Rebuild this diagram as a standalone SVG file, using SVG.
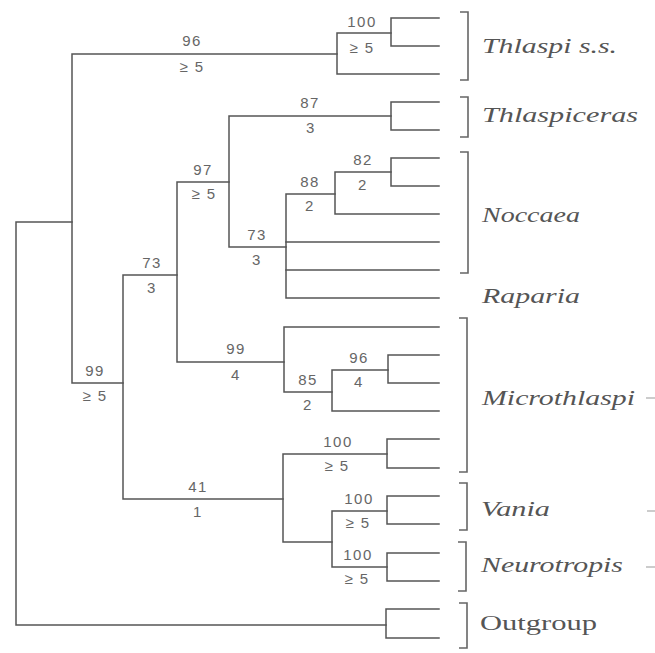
<svg xmlns="http://www.w3.org/2000/svg" width="655" height="653" viewBox="0 0 655 653">
<style>
.br{fill:none;stroke:#555;stroke-width:1.5;stroke-linecap:square}
.bk{fill:none;stroke:#666;stroke-width:1.6}
.n{font-family:"Liberation Sans",Arial,sans-serif;font-size:15px;fill:#666;text-anchor:middle;letter-spacing:1.5px}
.t{font-family:"Liberation Serif","Times New Roman",serif;font-size:21px;font-style:italic;fill:#555}
.o{font-family:"Liberation Serif","Times New Roman",serif;font-size:21px;fill:#555}
.d{stroke:#aaa;stroke-width:1.2}
</style>
<rect width="655" height="653" fill="#fff"/>
<g id="connectors">
<!-- root -->
<path class="br" d="M72,222 H16 V625 H386"/>
<!-- ingroup -->
<path class="br" d="M337,54 H72 V383 H123"/>
<!-- Thlaspi s.s. -->
<path class="br" d="M391,33 H337 V74 H439"/>
<path class="br" d="M439,18 H391 V46 H439"/>
<!-- node 123 -->
<path class="br" d="M177,275 H123 V499 H283"/>
<!-- node 177 -->
<path class="br" d="M229,182 H177 V362 H284"/>
<!-- node 229 -->
<path class="br" d="M391,116 H229 V247 H286"/>
<path class="br" d="M439,102 H391 V130 H439"/>
<!-- Noccaea / Raparia -->
<path class="br" d="M335,194 H286 V298 H439"/>
<path class="br" d="M286,242 H439 M286,270 H439"/>
<path class="br" d="M391,172 H335 V214 H439"/>
<path class="br" d="M439,158 H391 V186 H439"/>
<!-- Microthlaspi -->
<path class="br" d="M439,327 H284 V392 H332"/>
<path class="br" d="M388,370 H332 V411 H439"/>
<path class="br" d="M439,355 H388 V383 H439"/>
<!-- node 283 -->
<path class="br" d="M387,454 H283 V542 H332"/>
<path class="br" d="M439,439 H387 V468 H439"/>
<!-- Vania / Neurotropis -->
<path class="br" d="M387,511 H332 V567 H387"/>
<path class="br" d="M439,496 H387 V524 H439"/>
<path class="br" d="M439,553 H387 V581 H439"/>
<!-- Outgroup -->
<path class="br" d="M439,609 H386 V638 H439"/>
</g>
<g id="support-labels">
<text class="n" x="192" y="46">96</text><text class="n" x="192" y="72">≥ 5</text>
<text class="n" x="362" y="27">100</text><text class="n" x="362" y="53">≥ 5</text>
<text class="n" x="310" y="108">87</text><text class="n" x="311" y="133">3</text>
<text class="n" x="203" y="175">97</text><text class="n" x="204" y="199">≥ 5</text>
<text class="n" x="363" y="165">82</text><text class="n" x="363" y="190">2</text>
<text class="n" x="310" y="187">88</text><text class="n" x="310" y="211">2</text>
<text class="n" x="257" y="240">73</text><text class="n" x="257" y="265">3</text>
<text class="n" x="152" y="268">73</text><text class="n" x="152" y="293">3</text>
<text class="n" x="236" y="354">99</text><text class="n" x="236" y="380">4</text>
<text class="n" x="359" y="363">96</text><text class="n" x="359" y="387">4</text>
<text class="n" x="308" y="385">85</text><text class="n" x="308" y="410">2</text>
<text class="n" x="95" y="376">99</text><text class="n" x="95" y="401">≥ 5</text>
<text class="n" x="338" y="447">100</text><text class="n" x="337" y="471">≥ 5</text>
<text class="n" x="198" y="492">41</text><text class="n" x="198" y="517">1</text>
<text class="n" x="359" y="504">100</text><text class="n" x="358" y="528">≥ 5</text>
<text class="n" x="358" y="560">100</text><text class="n" x="357" y="584">≥ 5</text>
</g>
<g id="Thlaspi">
<path class="bk" d="M460,12 H468 V80 H460"/>
<text class="t" x="482" y="53" textLength="135" lengthAdjust="spacingAndGlyphs">Thlaspi s.s.</text>
</g>
<g id="Thlaspiceras">
<path class="bk" d="M460,97 H468 V137 H460"/>
<text class="t" x="482" y="122" textLength="156" lengthAdjust="spacingAndGlyphs">Thlaspiceras</text>
</g>
<g id="Noccaea">
<path class="bk" d="M460,152 H468 V273 H460"/>
<text class="t" x="482" y="222" textLength="98" lengthAdjust="spacingAndGlyphs">Noccaea</text>
</g>
<g id="Raparia">
<text class="t" x="482" y="303" textLength="98" lengthAdjust="spacingAndGlyphs">Raparia</text>
</g>
<g id="Microthlaspi">
<path class="bk" d="M459,318 H467 V472 H459"/>
<text class="t" x="482" y="405" textLength="153" lengthAdjust="spacingAndGlyphs">Microthlaspi</text>
<line class="d" x1="646" y1="398" x2="655" y2="398"/>
</g>
<g id="Vania">
<path class="bk" d="M459,483 H467 V530 H459"/>
<text class="t" x="481" y="516" textLength="69" lengthAdjust="spacingAndGlyphs">Vania</text>
<line class="d" x1="647" y1="511" x2="655" y2="511"/>
</g>
<g id="Neurotropis">
<path class="bk" d="M458,542 H466 V591 H458"/>
<text class="t" x="481" y="572" textLength="142" lengthAdjust="spacingAndGlyphs">Neurotropis</text>
<line class="d" x1="646" y1="567" x2="655" y2="567"/>
</g>
<g id="Outgroup">
<path class="bk" d="M459,603 H467 V648 H459"/>
<text class="o" x="480" y="630" textLength="117" lengthAdjust="spacingAndGlyphs">Outgroup</text>
</g>
</svg>
